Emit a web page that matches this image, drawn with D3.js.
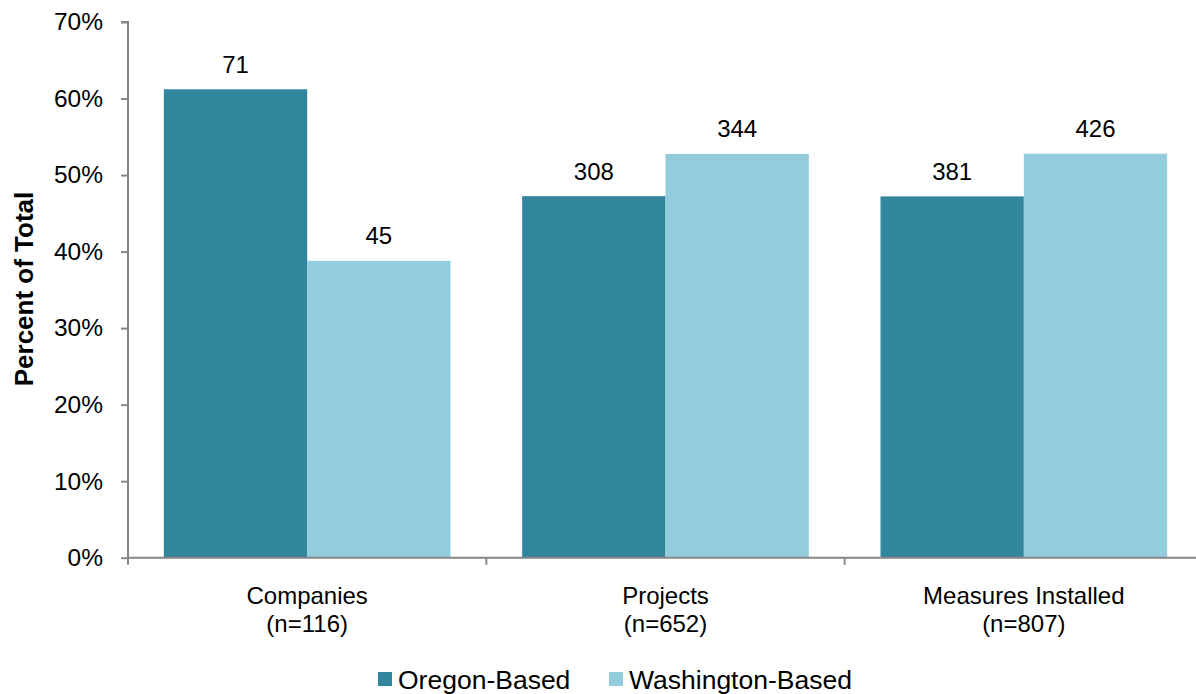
<!DOCTYPE html>
<html>
<head>
<meta charset="utf-8">
<script src="https://cdn.jsdelivr.net/npm/d3@7"></script>
<style>
  html, body { margin: 0; padding: 0; background: #fff; }
  svg { display: block; font-family: "Liberation Sans", Arial, sans-serif; }
</style>
</head>
<body>
<svg id="chart" width="1196" height="694"></svg>
<script>
// Categories and their sample sizes
const categories = ["Companies", "Projects", "Measures Installed"];
const sampleSizes = [116, 652, 807];

// Series: counts per category
const seriesNames = ["Oregon-Based", "Washington-Based"];
const oregonCounts = [71, 308, 381];
const washingtonCounts = [45, 344, 426];

const yTicks = [0, 10, 20, 30, 40, 50, 60, 70];
const colors = ["#31859C", "#93CDDD"];

const svg = d3.select("#chart");
const plot = { left: 128, right: 1203, top: 22, bottom: 557.7 };
const axisColor = "#868686";

const rows = categories.map((c, i) => ({
  category: c,
  n: sampleSizes[i],
  values: [oregonCounts[i], washingtonCounts[i]].map((count, s) => ({
    series: seriesNames[s],
    count,
    pct: count / sampleSizes[i] * 100
  }))
}));

const x0 = d3.scaleBand().domain(categories).range([plot.left, plot.right]).paddingInner(0).paddingOuter(0);
const x1 = d3.scaleBand().domain(seriesNames).range([0, x0.bandwidth()]).paddingInner(0).paddingOuter(0.25);
const y = d3.scaleLinear().domain([0, 70]).range([plot.bottom, plot.top]);
const color = d3.scaleOrdinal().domain(seriesNames).range(colors);

// Bars
const groups = svg.append("g").selectAll("g")
  .data(rows).join("g")
  .attr("transform", d => `translate(${x0(d.category)},0)`);

groups.selectAll("rect")
  .data(d => d.values).join("rect")
  .attr("x", d => x1(d.series))
  .attr("width", x1.bandwidth())
  .attr("y", d => y(d.pct))
  .attr("height", d => y(0) - y(d.pct))
  .attr("fill", d => color(d.series));

// Value labels (counts)
groups.selectAll("text.val")
  .data(d => d.values).join("text")
  .attr("class", "val")
  .attr("x", d => x1(d.series) + x1.bandwidth() / 2)
  .attr("y", d => y(d.pct) - 16.5)
  .attr("text-anchor", "middle")
  .attr("font-size", 24)
  .attr("fill", "#000")
  .text(d => d.count);

// Y axis
const yAxis = svg.append("g")
  .attr("transform", `translate(${plot.left},0)`)
  .call(d3.axisLeft(y).tickValues(yTicks).tickFormat(d => d + "%").tickSize(7).tickPadding(18));
yAxis.select(".domain").attr("stroke", axisColor).attr("stroke-width", 2).attr("d", `M-7,${plot.top}H0V${plot.bottom}`);
yAxis.selectAll(".tick line").attr("stroke", axisColor).attr("stroke-width", 2);
yAxis.selectAll(".tick text").attr("font-size", 24.5).attr("fill", "#000")
  .attr("font-family", "'Liberation Sans', Arial, sans-serif");

// X axis baseline and ticks at category boundaries
const xAxis = svg.append("g");
xAxis.append("line")
  .attr("x1", plot.left).attr("x2", plot.right)
  .attr("y1", plot.bottom).attr("y2", plot.bottom)
  .attr("stroke", axisColor).attr("stroke-width", 2);
const boundaries = categories.map(c => x0(c)).concat([x0(categories[categories.length - 1]) + x0.bandwidth()]);
xAxis.selectAll("line.tick")
  .data(boundaries).join("line")
  .attr("class", "tick")
  .attr("x1", d => d).attr("x2", d => d)
  .attr("y1", plot.bottom).attr("y2", plot.bottom + 7)
  .attr("stroke", axisColor).attr("stroke-width", 2);

// Category labels (two lines)
const catLabels = xAxis.selectAll("text.cat")
  .data(rows).join("text")
  .attr("class", "cat")
  .attr("text-anchor", "middle")
  .attr("font-size", 24)
  .attr("fill", "#000");
catLabels.append("tspan")
  .attr("x", d => x0(d.category) + x0.bandwidth() / 2)
  .attr("y", 604)
  .text(d => d.category);
catLabels.append("tspan")
  .attr("x", d => x0(d.category) + x0.bandwidth() / 2)
  .attr("y", 631.5)
  .text(d => `(n=${d.n})`);

// Y axis title
svg.append("text")
  .attr("transform", `translate(32.5,289) rotate(-90)`)
  .attr("text-anchor", "middle")
  .attr("font-size", 26)
  .attr("font-weight", "bold")
  .attr("fill", "#000")
  .text("Percent of Total");

// Legend
const legendItems = [
  { name: seriesNames[0], x: 378 },
  { name: seriesNames[1], x: 609 }
];
const legend = svg.append("g").selectAll("g")
  .data(legendItems).join("g")
  .attr("transform", d => `translate(${d.x},0)`);
legend.append("rect")
  .attr("x", 0).attr("y", 672)
  .attr("width", 14).attr("height", 14)
  .attr("fill", d => color(d.name));
legend.append("text")
  .attr("x", 20).attr("y", 688.5)
  .attr("font-size", 26.5)
  .attr("fill", "#000")
  .text(d => d.name);
</script>
</body>
</html>
